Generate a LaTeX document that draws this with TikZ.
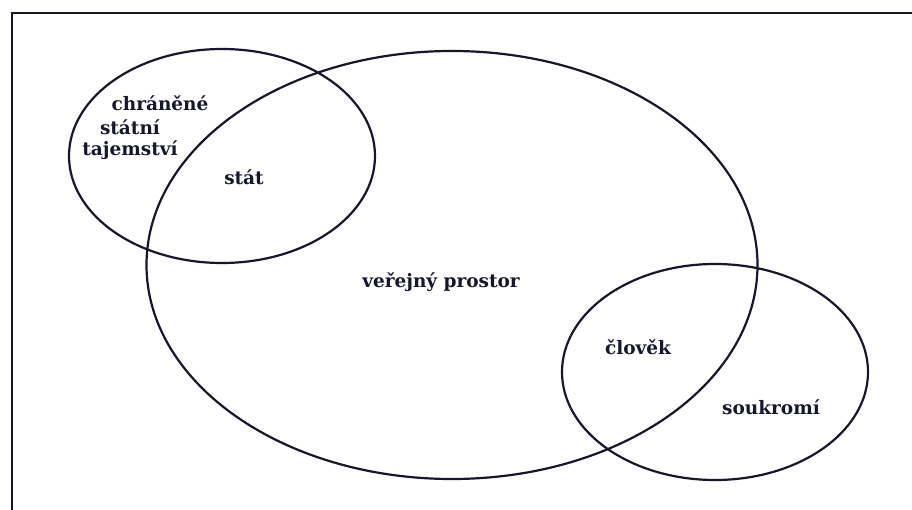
\documentclass[tikz,border=0pt]{standalone}
\usepackage{fontspec}
\setmainfont{DejaVu Serif}
\usetikzlibrary{shapes.geometric, positioning}
\definecolor{ink}{RGB}{22,22,48}

\begin{document}
\begin{tikzpicture}[x=1pt, y=-1pt,
	set/.style={ellipse, draw=ink, line width=2.2pt, inner sep=0pt},
	label/.style={text=ink, font=\bfseries\fontsize{18.5}{22}\selectfont, inner sep=0pt}]
	\useasboundingbox (0,0) rectangle (912,510);
	\clip (0,0) rectangle (912,510);
	\draw[ink, line width=2.2pt] (12,530) -- (12,13) -- (930,13);
	
	\node[set, minimum width=306, minimum height=214] (tajne) at (222,156) {};
	\node[set, minimum width=611, minimum height=428] (verejny) at (452,265) {};
	\node[set, minimum width=306, minimum height=216] (soukrome) at (715,372) {};
	
	\node[label] (l1) at (160,103) {chráněné};
	\node[label] (l2) at (130,127) {státní};
	\node[label] (l3) at (130,150) {tajemství};
	\node[label] (stat) at (244,177) {stát};
	\node[label] (prostor) at (441,282) {veřejný prostor};
	\node[label] (clovek) at (638,347) {člověk};
	\node[label] (soukromi) at (771,407) {soukromí};
	
\end{tikzpicture}
\end{document}
